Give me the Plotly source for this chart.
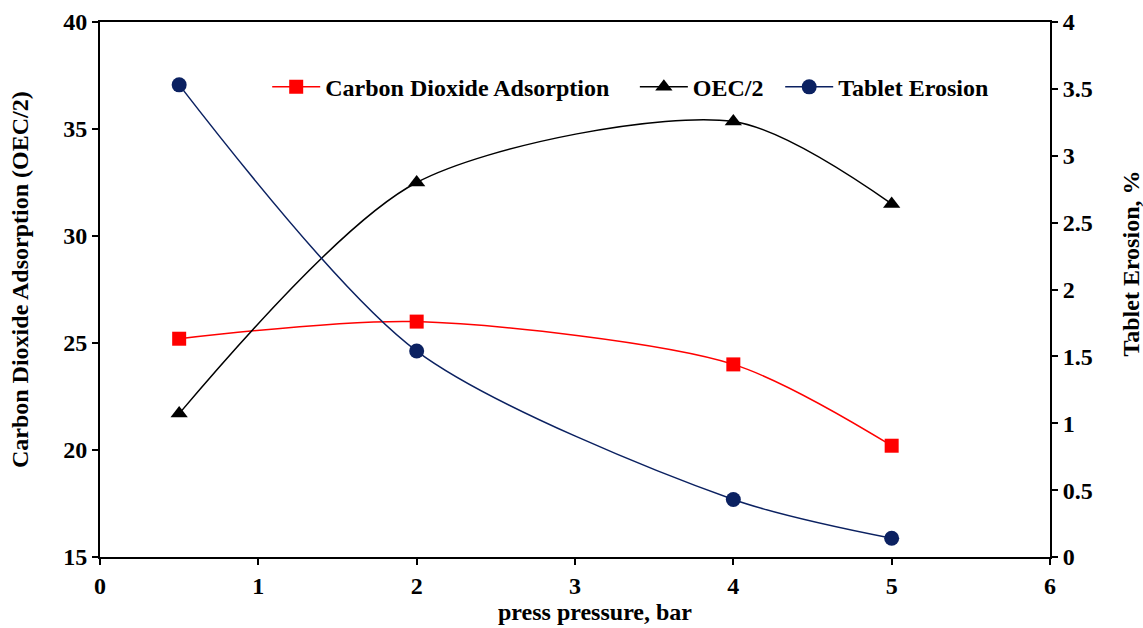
import plotly.graph_objects as go

pressure = [0.5, 2, 4, 5]
co2_adsorption = [25.2, 26.0, 24.0, 20.2]
oec_half = [21.7, 32.5, 35.35, 31.5]
tablet_erosion = [3.53, 1.54, 0.43, 0.14]

x_ticks = [0, 1, 2, 3, 4, 5, 6]
y_ticks = [15, 20, 25, 30, 35, 40]
y2_ticks = [0, 0.5, 1, 1.5, 2, 2.5, 3, 3.5, 4]

FONT = "Liberation Serif"

fig = go.Figure()
fig.add_trace(go.Scatter(
    x=pressure, y=co2_adsorption, name="<b>Carbon Dioxide Adsorption</b>", legend="legend",
    mode="lines+markers", line=dict(color="#ff0000", width=1.5, shape="spline", smoothing=0.8),
    marker=dict(symbol="square", size=14, color="#ff0000")))
fig.add_trace(go.Scatter(
    x=pressure, y=oec_half, name="<b>OEC/2</b>", legend="legend2",
    mode="lines+markers", line=dict(color="#000000", width=1.5, shape="spline", smoothing=0.8),
    marker=dict(symbol="triangle-up", size=15, color="#000000")))
fig.add_trace(go.Scatter(
    x=pressure, y=tablet_erosion, name="<b>Tablet Erosion</b>", yaxis="y2", legend="legend3",
    mode="lines+markers", line=dict(color="#0b2161", width=1.5, shape="spline", smoothing=0.8),
    marker=dict(symbol="circle", size=15, color="#0b2161")))

tickfont = dict(family=FONT, size=24, color="black", weight="bold")
titlefont = dict(family=FONT, size=24, color="black", weight="bold")
legfont = dict(family=FONT, size=24, color="black", weight="bold")

axis_common = dict(showgrid=False, zeroline=False, showline=True, linecolor="black", linewidth=2,
                   ticks="outside", ticklen=6, tickwidth=1.5, tickcolor="black",
                   tickfont=tickfont, automargin=False)

def bold(vals):
    return ["<b>%g</b>" % v for v in vals]

def leg(x):
    return dict(orientation="h", x=x, y=0.878, xanchor="left", yanchor="middle",
                font=legfont, bgcolor="rgba(0,0,0,0)", itemwidth=48)

fig.update_layout(
    width=1143, height=628,
    margin=dict(l=100, r=93, t=22, b=71),
    plot_bgcolor="white", paper_bgcolor="white",
    font=dict(family=FONT, color="black"),
    showlegend=True,
    legend=leg(0.176), legend2=leg(0.563), legend3=leg(0.716),
    xaxis=dict(range=[0, 6], tickvals=x_ticks, ticktext=bold(x_ticks), mirror=True, **axis_common),
    yaxis=dict(range=[15, 40], tickvals=y_ticks, ticktext=bold(y_ticks), **axis_common),
    yaxis2=dict(range=[0, 4], tickvals=y2_ticks, ticktext=bold(y2_ticks), overlaying="y", side="right",
                **axis_common),
    annotations=[
        dict(text="<b>press pressure, bar</b>", xref="paper", yref="paper", x=0.521, y=-0.103,
             xanchor="center", yanchor="middle", showarrow=False, font=titlefont),
        dict(text="<b>Carbon Dioxide Adsorption (OEC/2)</b>", xref="paper", yref="paper", x=-0.084, y=0.518,
             xanchor="center", yanchor="middle", showarrow=False, font=titlefont, textangle=-90),
        dict(text="<b>Tablet Erosion, %</b>", xref="paper", yref="paper", x=1.085, y=0.548,
             xanchor="center", yanchor="middle", showarrow=False, font=titlefont, textangle=-90),
    ],
)

fig.write_html("out.html")
